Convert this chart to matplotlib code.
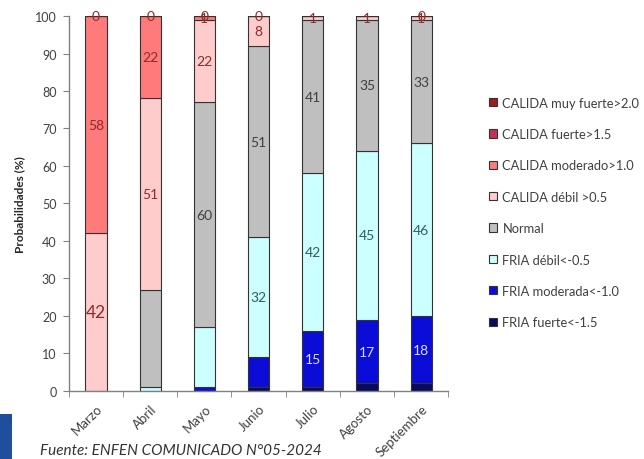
import matplotlib

matplotlib.use("Agg")
import matplotlib.pyplot as plt
import numpy as np
from matplotlib.patches import Rectangle

plt.rcParams["font.family"] = ["Lato", "DejaVu Sans"]

# Probabilidades (%) por mes y por condición (de abajo hacia arriba)
meses = ["Marzo", "Abril", "Mayo", "Junio", "Julio", "Agosto", "Septiembre"]
fria_fuerte = [0, 0, 0, 1, 1, 2, 2]
fria_moderada = [0, 0, 1, 8, 15, 17, 18]
fria_debil = [0, 1, 16, 32, 42, 45, 46]
normal = [0, 26, 60, 51, 41, 35, 33]
calida_debil = [42, 51, 22, 8, 1, 1, 1]
calida_moderado = [58, 22, 1, 0, 0, 0, 0]
calida_fuerte = [0, 0, 0, 0, 0, 0, 0]
calida_muy_fuerte = [0, 0, 0, 0, 0, 0, 0]

nombres = ["FRIA fuerte<-1.5", "FRIA moderada<-1.0", "FRIA débil<-0.5", "Normal",
           "CALIDA débil >0.5", "CALIDA moderado>1.0", "CALIDA fuerte>1.5",
           "CALIDA muy fuerte>2.0"]
series = [fria_fuerte, fria_moderada, fria_debil, normal,
          calida_debil, calida_moderado, calida_fuerte, calida_muy_fuerte]

# qué etiquetas se muestran en cada serie
mostrar = [
    [0, 0, 0, 0, 0, 0, 0],
    [0, 0, 0, 0, 1, 1, 1],
    [0, 0, 0, 1, 1, 1, 1],
    [0, 0, 1, 1, 1, 1, 1],
    [1, 1, 1, 1, 1, 1, 1],
    [1, 1, 1, 1, 0, 0, 1],
    [1, 1, 1, 0, 0, 0, 0],
    [0, 0, 0, 0, 0, 0, 0],
]

colores = ["#0A0A5C", "#0C0CD8", "#CCFFFF", "#BFBFBF",
           "#FFCCCC", "#FF7B7B", "#C8305A", "#A01C1C"]
col_txt = ["white", "#D8DEFF", "#2E5F5F", "#404040",
           "#8E2A2A", "#8E2A2A", "#8E2A2A", "#8E2A2A"]

fig = plt.figure(figsize=(6.44, 4.6), dpi=100)
ax = fig.add_axes([0.107, 0.148, 0.589, 0.815])

x = np.arange(len(meses))
base = np.zeros(len(meses))
handles = []
for vals, nom, c, ct, m in zip(series, nombres, colores, col_txt, mostrar):
    vals = np.array(vals, dtype=float)
    h = ax.bar(x, vals, 0.39, bottom=base, color=c, edgecolor="#333333",
               linewidth=0.8, label=nom, zorder=2)
    handles.append(h)
    for i in range(len(meses)):
        if m[i]:
            fs = 12.5 if (i == 0 and nom.startswith("CALIDA débil")) else 10
            ax.text(x[i], base[i] + vals[i] / 2, f"{int(vals[i])}", ha="center",
                    va="center", fontsize=fs, color=ct, zorder=3)
    base += vals

ax.set_xlim(-0.5, len(meses) - 0.5)
ax.set_ylim(0, 100)
ax.set_yticks(range(0, 101, 10))
ax.tick_params(axis="y", labelsize=9, length=4, color="#808080",
               labelcolor="#404040", pad=5)
ax.set_xticks(x)
ax.set_xticklabels(meses, rotation=45, ha="right", rotation_mode="anchor",
                   fontsize=9.5, color="#404040")
ax.tick_params(axis="x", length=0, pad=8)
ax.set_xticks(np.arange(-0.5, len(meses)), minor=True)
ax.tick_params(axis="x", which="minor", length=4, color="#808080")
for s in ["top", "right"]:
    ax.spines[s].set_visible(False)
for s in ["left", "bottom"]:
    ax.spines[s].set_color("#808080")
    ax.spines[s].set_linewidth(1.0)

ax.set_ylabel("Probabilidades (%)", fontsize=8.5, fontweight="bold",
              color="#262626", labelpad=7)

fig.legend(handles[::-1], nombres[::-1], loc="upper left",
           bbox_to_anchor=(0.742, 0.813), frameon=False, fontsize=9.3,
           labelspacing=1.5, handlelength=0.6, handleheight=0.6,
           handletextpad=0.4, labelcolor="#404040")

fig.text(40 / 644, 5 / 460, "Fuente: ENFEN COMUNICADO N°05-2024", style="italic",
         fontsize=11, color="#333333")

# franja azul del borde inferior izquierdo
fig.patches.append(Rectangle((0, 0), 12 / 644, 45 / 460, transform=fig.transFigure,
                             facecolor="#1E4E9C", edgecolor="none"))

fig.savefig("out.png", dpi=100, facecolor="white")
